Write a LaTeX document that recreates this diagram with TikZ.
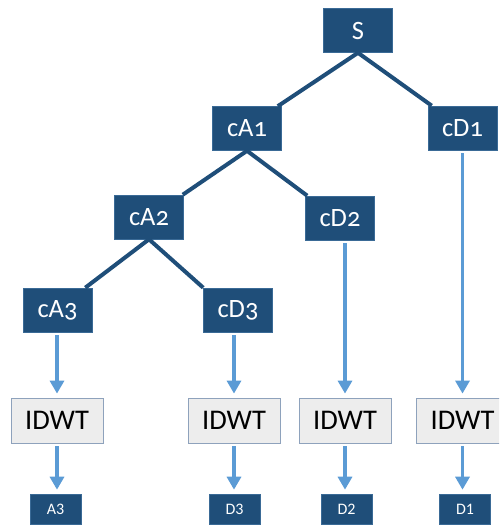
\documentclass[tikz,border=0pt]{standalone}
\usepackage{fontspec}
\setmainfont{Carlito}
\newfontfamily\treefont[Numbers=OldStyle]{Carlito}
\usetikzlibrary{arrows.meta}
\definecolor{navy}{HTML}{1F4E79}
\definecolor{navyedge}{HTML}{3A6A96}
\definecolor{skyarrow}{HTML}{5B9BD5}
\definecolor{boxgrey}{HTML}{EDEDED}
\definecolor{boxedge}{HTML}{8EA2BC}
\tikzset{
  coef/.style={rectangle, fill=navy, draw=navyedge, line width=0.6pt,
    minimum width=69pt, minimum height=44pt, inner sep=0pt, text=white,
    font=\treefont\fontsize{26.5}{26.5}\selectfont},
  idwtbox/.style={rectangle, fill=boxgrey, draw=boxedge, line width=0.8pt,
    minimum width=92pt, minimum height=45pt, inner sep=0pt, text=black,
    font=\fontsize{28.5}{28.5}\selectfont},
  result/.style={rectangle, fill=navy, draw=navyedge, line width=0.6pt,
    minimum width=51pt, minimum height=30pt, inner sep=0pt, text=white,
    font=\fontsize{16}{16}\selectfont},
  branch/.style={draw=navy, line width=4pt},
  flow/.style={draw=skyarrow, line width=3.2pt,
    -{Triangle[length=13pt,width=14pt]}, shorten <=3pt, shorten >=4pt}
}
\begin{document}
\begin{tikzpicture}[x=1pt,y=-1pt]
\useasboundingbox (0,0) rectangle (499,526);
\clip (0,0) rectangle (499,526);

% decomposition tree
\node[coef] (s)   at (358,30.5) {S};
\node[coef] (ca1) at (247,128.5) {cA1};
\node[coef] (cd1) at (462.5,128) {cD1};
\node[coef] (ca2) at (149,217) {cA2};
\node[coef] (cd2) at (340,218) {cD2};
\node[coef] (ca3) at (57.5,310) {cA3};
\node[coef] (cd3) at (238,310) {cD3};

% inverse transforms
\node[idwtbox] (i1) at (57,420.5) {IDWT};
\node[idwtbox] (i2) at (234,420.5) {IDWT};
\node[idwtbox] (i3) at (345,420.5) {IDWT};
\node[idwtbox] (i4) at (462.5,420.5) {IDWT};

% reconstructed signals
\node[result] (a3) at (55.5,509) {A3};
\node[result] (d3) at (234.5,509) {D3};
\node[result] (d2) at (346.5,509) {D2};
\node[result] (d1) at (465,509) {D1};

% tree branches
\draw[branch] (s.south) -- ([xshift=-4pt]ca1.north east);
\draw[branch] (s.south) -- ([xshift=4pt]cd1.north west);
\draw[branch] (ca1.south) -- ([xshift=-1pt]ca2.north east);
\draw[branch] (ca1.south) -- ([xshift=2pt]cd2.north west);
\draw[branch] (ca2.south) -- ([xshift=-7pt]ca3.north east);
\draw[branch] (ca2.south) -- ([xshift=0pt]cd3.north west);

% coefficients into the inverse transforms
\draw[flow] (i1.north |- ca3.south) -- (i1.north);
\draw[flow] (i2.north |- cd3.south) -- (i2.north);
\draw[flow] (i3.north |- cd2.south) -- (i3.north);
\draw[flow] (i4.north |- cd1.south) -- (i4.north);

% inverse transforms into the results
\draw[flow] (i1.south) -- (i1.south |- a3.north);
\draw[flow] (i2.south) -- (i2.south |- d3.north);
\draw[flow] (i3.south) -- (i3.south |- d2.north);
\draw[flow] (i4.south) -- (i4.south |- d1.north);
\end{tikzpicture}
\end{document}
